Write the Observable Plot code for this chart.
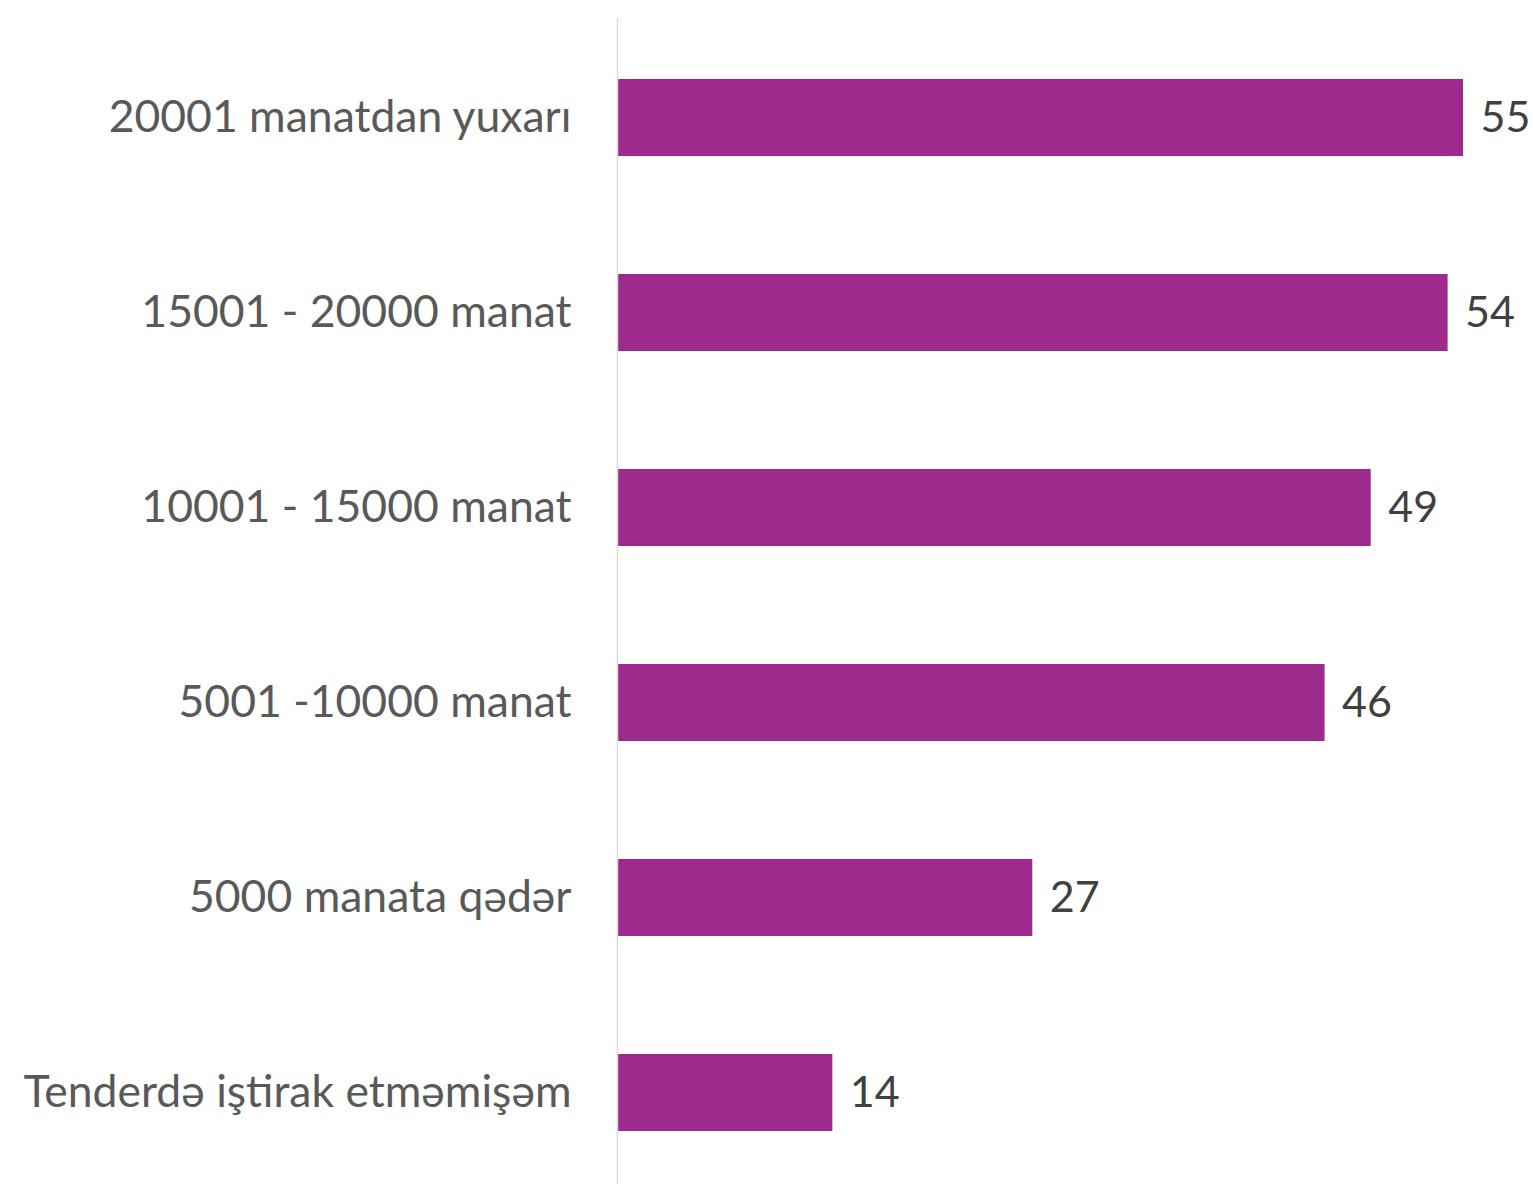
<!DOCTYPE html>
<html>
<head>
<meta charset="utf-8">
<script src="https://cdn.jsdelivr.net/npm/d3@7"></script>
<script src="https://cdn.jsdelivr.net/npm/@observablehq/plot@0.6"></script>
<style>
  html, body { margin: 0; padding: 0; background: #fff; }
  #chart svg { display: block; }
</style>
</head>
<body>
<div id="chart"></div>
<script>
const categories = [
  "20001 manatdan yuxarı",
  "15001 - 20000 manat",
  "10001 - 15000 manat",
  "5001 -10000 manat",
  "5000 manata qədər",
  "Tenderdə iştirak etməmişəm"
];
const values = [55, 54, 49, 46, 27, 14];

const data = categories.map((c, i) => ({category: c, value: values[i]}));

const chart = Plot.plot({
  width: 1533,
  height: 1184,
  marginLeft: 617,
  marginRight: 70,
  marginTop: 18,
  marginBottom: -8,
  style: {fontFamily: "Lato, 'Open Sans', sans-serif", background: "#fff"},
  x: {domain: [0, 55], axis: null},
  y: {domain: categories, paddingInner: 0.606, paddingOuter: 0.303, label: null},
  marks: [
    Plot.barX(data, {x: "value", y: "category", fill: "#9E2A8E"}),
    Plot.ruleX([0], {stroke: "#d9d9d9", strokeWidth: 1.5}),
    Plot.text(data, {x: "value", y: "category", text: d => String(d.value), textAnchor: "start", dx: 17, fontSize: 43, fill: "#404040"}),
    Plot.axisY({tickSize: 0, tickPadding: 46, fontSize: 44.5, color: "#595959", label: null})
  ]
});
document.getElementById("chart").appendChild(chart);
</script>
</body>
</html>
